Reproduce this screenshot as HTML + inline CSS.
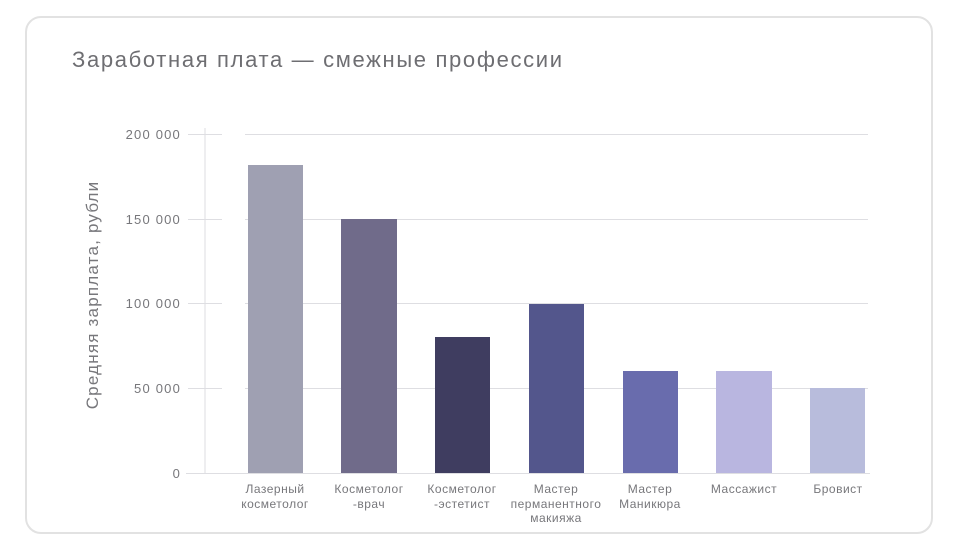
<!DOCTYPE html>
<html><head><meta charset="utf-8"><style>
body{margin:0;background:#fff;width:960px;height:550px;overflow:hidden;font-family:"Liberation Sans",sans-serif}
.card{position:absolute;left:25px;top:16px;width:908px;height:518px;border:2px solid #e2e2e2;border-radius:16px;box-sizing:border-box}
</style></head><body>
<div class="card"></div>
<svg width="960" height="550" style="position:absolute;left:0;top:0" font-family="Liberation Sans, sans-serif">
<text x="72" y="67" font-size="22" fill="#6e6e72" textLength="490" lengthAdjust="spacing">Заработная плата — смежные профессии</text>
<g stroke="#dedee2" stroke-width="1">
<line x1="205" y1="128" x2="205" y2="473"/>
<line x1="188" y1="134.5" x2="222" y2="134.5"/><line x1="245" y1="134.5" x2="868" y2="134.5"/>
<line x1="188" y1="219.5" x2="222" y2="219.5"/><line x1="245" y1="219.5" x2="868" y2="219.5"/>
<line x1="188" y1="303.5" x2="222" y2="303.5"/><line x1="245" y1="303.5" x2="868" y2="303.5"/>
<line x1="188" y1="388.5" x2="222" y2="388.5"/><line x1="245" y1="388.5" x2="868" y2="388.5"/>
<line x1="186" y1="473.5" x2="870" y2="473.5"/>
</g>
<g font-size="13" fill="#77777b" text-anchor="end" letter-spacing="1.2">
<text x="181" y="139">200 000</text><text x="181" y="224">150 000</text><text x="181" y="308">100 000</text><text x="181" y="393">50 000</text><text x="181" y="478">0</text>
</g>
<text transform="translate(98,295) rotate(-90)" font-size="17" fill="#77777b" text-anchor="middle" letter-spacing="1.2">Средняя зарплата, рубли</text>
<rect x="248" y="165" width="55" height="308" fill="#9fa0b2"/>
<rect x="341" y="219" width="56" height="254" fill="#706b8a"/>
<rect x="435" y="337" width="55" height="136" fill="#3f3d60"/>
<rect x="529" y="304" width="55" height="169" fill="#53568c"/>
<rect x="623" y="371" width="55" height="102" fill="#696cad"/>
<rect x="716" y="371" width="56" height="102" fill="#b9b6e0"/>
<rect x="810" y="388" width="55" height="85" fill="#b8bcdc"/>
<g font-size="12" fill="#77777b" text-anchor="middle" letter-spacing="0.5">
<text x="275" y="493">Лазерный</text><text x="275" y="508">косметолог</text>
<text x="369" y="493">Косметолог</text><text x="369" y="508">-врач</text>
<text x="462" y="493">Косметолог</text><text x="462" y="508">-эстетист</text>
<text x="556" y="493">Мастер</text><text x="556" y="508">перманентного</text><text x="556" y="522">макияжа</text>
<text x="650" y="493">Мастер</text><text x="650" y="508">Маникюра</text>
<text x="744" y="493">Массажист</text>
<text x="838" y="493">Бровист</text>
</g>
</svg>
</body></html>
